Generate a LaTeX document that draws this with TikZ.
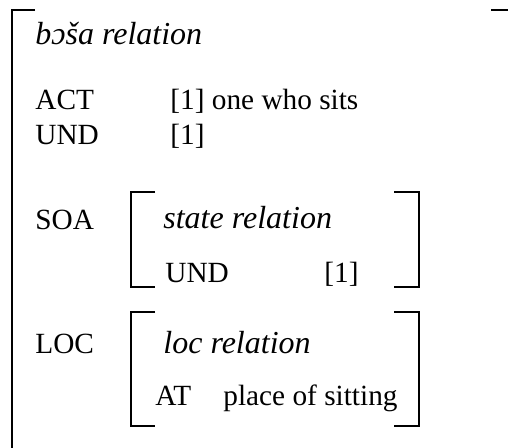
\documentclass[tikz,border=0pt]{standalone}
\usepackage{fontspec}
\setmainfont{Liberation Serif}
\usetikzlibrary{positioning}
\tikzset{lbl/.style={anchor=base west, inner sep=0pt,
           font=\fontsize{14.65}{17}\selectfont},
         rel/.style={lbl, font=\fontsize{16}{18}\selectfont\itshape},
         brk/.style={line width=1pt}}

\begin{document}
\begin{tikzpicture}[x=0.5pt,y=-0.5pt]
  \useasboundingbox (0,0) rectangle (508,448);
  % outer matrix
  \draw[brk] (35,10) -- (12,10) -- (12,448);
  \draw[brk] (491,10) -- (508,10);
  \node[rel] (head) at (35,45) {bɔša relation};
  \node[lbl] (act)  at (35,110) {ACT};
  \node[lbl] (actv) at (170,110) {[1] one who sits};
  \node[lbl] (und)  at (35,145) {UND};
  \node[lbl] (undv) at (170,145) {[1]};
  % SOA
  \node[lbl] (soa) at (35,230) {SOA};
  \draw[brk] (155,192) -- (131,192) -- (131,287) -- (155,287);
  \draw[brk] (394,192) -- (419,192) -- (419,287) -- (394,287);
  \node[rel] (state) at (163,229) {state relation};
  \node[lbl] (sund)  at (165,283) {UND};
  \node[lbl] (sundv) at (324,283) {[1]};
  % LOC
  \node[lbl] (loc) at (35,353) {LOC};
  \draw[brk] (155,312) -- (131,312) -- (131,426) -- (155,426);
  \draw[brk] (394,312) -- (419,312) -- (419,426) -- (394,426);
  \node[rel] (locrel) at (163,353) {loc relation};
  \node[lbl] (at)     at (155,405) {AT};
  \node[lbl] (atv)    at (223,405) {place of sitting};
\end{tikzpicture}
\end{document}
